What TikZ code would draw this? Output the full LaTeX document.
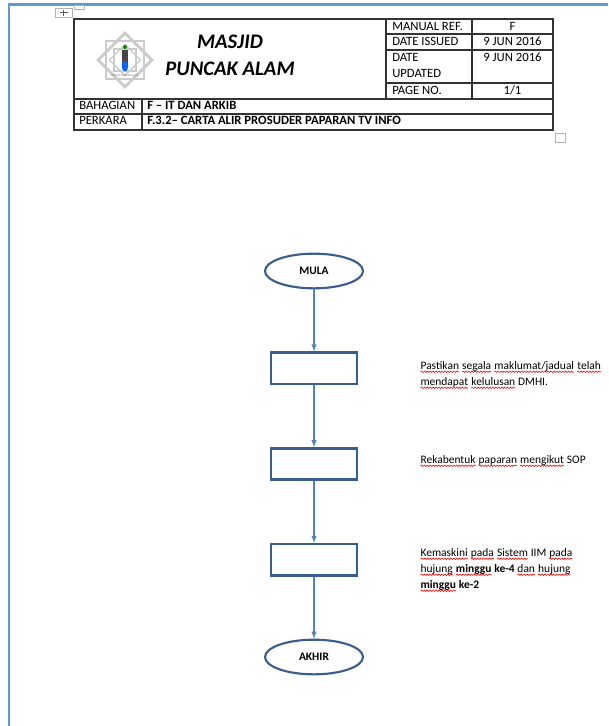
\documentclass[tikz,border=0pt]{standalone}
\usepackage{fontspec}
\setmainfont{Carlito}
\usepackage{tikz}
\usetikzlibrary{arrows,positioning,shapes.geometric,calc,decorations.pathmorphing}

\definecolor{wordblue}{HTML}{5B9BD5}
\definecolor{boxblue}{HTML}{3A5F8F}
\definecolor{arrowblue}{HTML}{5282BE}
\definecolor{logogray}{HTML}{CBCBCB}
\definecolor{gridline}{HTML}{333333}

% red wavy mark under words
\newcommand\typo[1]{\tikz[baseline=(tw.base)]{\node[inner sep=0pt,outer sep=0pt,anchor=base] (tw) at (0pt,0pt) {#1};
  \draw[red,line width=0.45pt,decorate,decoration={snake,amplitude=0.5pt,segment length=2.2pt}]
    ([yshift=-1.9pt]tw.base west) -- ([yshift=-1.9pt]tw.base east);}}

\begin{document}
\begin{tikzpicture}[x=0.75pt,y=-0.75pt,auto,node distance=46.5pt,
  term/.style={ellipse,draw=boxblue,line width=1.6pt,minimum width=73.5pt,minimum height=26pt,inner sep=0pt,font=\bfseries\fontsize{8.6}{9}\selectfont},
  proc/.style={rectangle,draw=boxblue,line width=1.8pt,minimum width=64.5pt,minimum height=23.5pt,inner sep=0pt},
  flow/.style={draw=arrowblue,line width=0.8pt,->,>=latex},
  note/.style={anchor=north west,align=left,inner sep=0pt,font=\fontsize{8.6}{12}\selectfont},
  cell/.style={anchor=base west,inner sep=0pt,font=\fontsize{9.5}{10}\selectfont},
  val/.style={anchor=base,inner sep=0pt,font=\fontsize{9.5}{10}\selectfont},
  title/.style={anchor=base,inner sep=0pt,font=\bfseries\itshape\fontsize{15.5}{17}\selectfont}]
  \useasboundingbox (0,0) rectangle (608,726);

  % page edge
  \draw[wordblue,line width=2pt] (9,726) -- (9,4.5) -- (608,4.5);
  \draw[gray!60,fill=white] (74,5.5) rectangle (84,9);
  \draw[gray!60,fill=white] (55,8) rectangle (72,17);
  \draw[gray!70!black,line width=0.5pt] (59.5,12.5) -- (67.5,12.5) (63.5,9.5) -- (63.5,15.5);
  \draw[gray!60] (555,133) rectangle (565,142);

  % header table
  \draw[gridline,line width=1pt] (74,19) rectangle (553,130);
  \draw[gridline,line width=1pt]
    (74,99) -- (553,99) (74,114) -- (553,114) (142,99) -- (142,130)
    (386,19) -- (386,99) (472,19) -- (472,99)
    (386,34) -- (553,34) (386,50) -- (553,50) (386,83) -- (553,83);

  % logo
  \begin{scope}[shift={(125,60)}]
    \foreach \a in {0,45}
      \draw[logogray,line width=2.2pt,rotate=\a] (-19,-19) rectangle (19,19);
    \foreach \a in {0,45}
      \draw[logogray,line width=1pt,rotate=\a] (-11,-11) rectangle (11,11);
    \fill[gray!55!black] (-3,-10) rectangle (3,4);
    \fill[green!55!black] (0,-13) circle (2);
    \fill[blue!60!cyan] (0,6) ellipse (3.2 and 5.5);
    \node[inner sep=0pt,font=\fontsize{2.2}{2.5}\selectfont,text=gray] (logotxt) at (0,16) {MASJID PUNCAK ALAM};
  \end{scope}

  \node[title] (masjid) at (230,48) {MASJID};
  \node[title] (puncak) at (230,75) {PUNCAK ALAM};

  \node[cell] (manref) at (392,30) {MANUAL REF.};
  \node[val] (manrefv) at (512.5,30) {F};
  \node[cell] (issued) at (392,45.5) {DATE ISSUED};
  \node[val] (issuedv) at (512.5,45.5) {9 JUN 2016};
  \node[cell] (upd) at (392,61) {DATE};
  \node[cell] (upd2) at (392,77) {UPDATED};
  \node[val] (updv) at (512.5,61) {9 JUN 2016};
  \node[cell] (page) at (392,94) {PAGE NO.};
  \node[val] (pagev) at (512.5,94) {1/1};
  \node[cell] (bahagian) at (79,109.5) {BAHAGIAN};
  \node[cell,font=\bfseries\fontsize{9.5}{10}\selectfont] (bahagianv) at (147,109.5) {F -- IT DAN ARKIB};
  \node[cell] (perkara) at (79,124.5) {PERKARA};
  \node[cell,font=\bfseries\fontsize{9.5}{10}\selectfont] (perkarav) at (147,124.5) {F.3.2-- CARTA ALIR PROSUDER PAPARAN TV INFO};

  % flow
  \node[term] (mula) at (314,271) {MULA};
  \node[proc] (semak) [below=of mula] {};
  \node[proc] (bentuk) [below=of semak] {};
  \node[proc] (kemaskini) [below=of bentuk] {};
  \node[term] (akhir) [below=of kemaskini] {AKHIR};
  \path
    (mula) edge[flow] (semak)
    (semak) edge[flow] (bentuk)
    (bentuk) edge[flow] (kemaskini)
    (kemaskini) edge[flow] (akhir);

  \node[note] (semaknote) at (420,361) {\typo{Pastikan} \typo{segala} \typo{maklumat/jadual} \typo{telah}\\
    \typo{mendapat} \typo{kelulusan} DMHI.};
  \node[note] (bentuknote) at (420,455) {\typo{Rekabentuk} \typo{paparan} \typo{mengikut} SOP};
  \node[note] (kemaskininote) at (420,548) {\typo{Kemaskini} \typo{pada} \typo{Sistem} IIM \typo{pada}\\
    \typo{hujung} \textbf{\typo{minggu} ke-4} \typo{dan} \typo{hujung}\\
    \textbf{\typo{minggu} ke-2}};
\end{tikzpicture}
\end{document}
